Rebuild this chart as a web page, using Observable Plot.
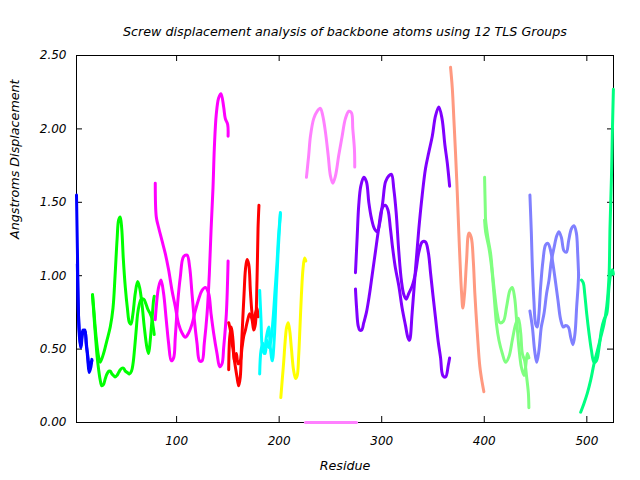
<!DOCTYPE html>
<html><head><meta charset="utf-8">
<script src="https://cdn.jsdelivr.net/npm/d3@7"></script>
<script src="https://cdn.jsdelivr.net/npm/@observablehq/plot@0.6"></script>
<style>body{margin:0;background:#fff}</style>
</head><body><div id="chart"></div>
<script>
const title = "Screw displacement analysis of backbone atoms using 12 TLS Groups";
const xLabel = "Residue";
const yLabel = "Angstroms Displacement";
const xTicks = [100, 200, 300, 400, 500];
const yTicks = [0, 0.5, 1, 1.5, 2, 2.5];
const yTickLabels = ["0.00", "0.50", "1.00", "1.50", "2.00", "2.50"];
const xRange = [2.4, 526];
const yRange = [0, 2.5];

// TLS group 1 (blue)
const g1a = [[2.4,1.55],[2.8,1.38],[3.5,1.08],[4.1,0.78],[5.3,0.61],[6.7,0.51],[8.6,0.61],[10.6,0.63],[11.9,0.53],[13.5,0.45],[14.8,0.36],[16.5,0.41],[17.4,0.42]];
const g1b = [[3.2,1.08],[4.1,0.80],[5.3,0.58],[6.7,0.52],[8.6,0.63],[10.6,0.62],[11.9,0.55],[13.5,0.42],[14.8,0.34],[16.5,0.38],[17.4,0.43]];
// TLS group 2 (green)
const g2a = [[18,0.87],[19.5,0.75],[20.6,0.65],[22,0.55],[23.9,0.45],[25.5,0.41],[28.8,0.47],[32.1,0.56],[35.3,0.65],[38,0.78],[40,1.0],[42,1.25],[43.5,1.38],[45,1.40],[46.5,1.32],[48,1.12],[50,0.92],[52,0.78],[54,0.68],[55.5,0.67],[57.4,0.74],[59.7,0.88],[62,0.96],[63.9,0.92],[66.2,0.81],[68.5,0.65],[71.1,0.51],[72.7,0.47],[74.3,0.56],[76,0.70],[77.5,0.83],[78.2,0.86]];
const g2b = [[18,0.87],[19.5,0.72],[21,0.58],[22.5,0.45],[24,0.36],[25.5,0.29],[27,0.25],[28.8,0.26],[30.5,0.30],[32.1,0.33],[34,0.35],[35.3,0.35],[37,0.33],[38.5,0.32],[40,0.31],[41.8,0.32],[43.5,0.34],[45.1,0.36],[47,0.37],[48.3,0.37],[50,0.35],[52,0.34],[54,0.33],[56,0.35],[57.5,0.40],[59,0.50],[60.5,0.62],[62,0.74],[63.5,0.80],[65.5,0.84],[68,0.84],[70,0.81],[72,0.77],[74.3,0.74],[76,0.71],[77,0.66],[78.2,0.60]];
// TLS group 3 (magenta)
const g3a = [[79.2,1.63],[80.2,1.40],[82.4,1.33],[85.7,1.24],[89,1.15],[92.2,1.04],[95.5,0.90],[98.7,0.79],[102,0.67],[105.3,0.61],[108.5,0.58],[111.7,0.61],[115,0.67],[118.2,0.76],[121.5,0.84],[124.8,0.90],[128,0.92],[131.2,0.88],[133.6,0.74],[136.1,0.61],[139.4,0.47],[142,0.38],[144.3,0.40],[145.9,0.51],[148.5,0.74],[150.2,1.10]];
const g3b = [[79.2,0.70],[82.4,0.92],[84.8,0.97],[87.3,0.88],[89.9,0.70],[92.2,0.54],[94.8,0.42],[97.1,0.44],[98.7,0.58],[101,0.81],[103.6,0.99],[106.8,1.13],[110.2,1.14],[112.7,1.06],[115,0.88],[117.3,0.70],[119.9,0.54],[122.4,0.42],[124.8,0.42],[127,0.54],[129.7,0.74],[131.9,1.01],[133.6,1.31],[135.5,1.60],[136.8,1.87],[138.7,2.10],[141,2.21],[143.3,2.24],[145.9,2.15],[147.5,2.07],[149.8,2.03],[150.2,1.95]];
// TLS group 4 (red)
const g4a = [[150.8,0.68],[152.4,0.63],[153.8,0.55],[155,0.50],[156.2,0.43],[157.3,0.38],[158.9,0.31],[160.5,0.25],[162.1,0.31],[163.2,0.50],[164.5,0.70],[165.8,0.88],[167.1,1.04],[168.7,1.11],[170.3,1.08],[172,0.89],[173.6,0.74],[175.2,0.67],[176.8,0.74],[178.4,0.78],[179.5,0.72]];
const g4b = [[150.8,0.36],[151.8,0.58],[153.4,0.65],[155,0.56],[156.6,0.42],[158.3,0.47],[159.9,0.40],[162.1,0.42],[163.8,0.51],[165.5,0.59],[167.1,0.63],[168.7,0.68],[171.3,0.74],[173.6,0.70],[175.2,0.63],[176.8,0.67],[178.4,0.97],[179.4,1.32],[180.3,1.48]];
// TLS group 5 (cyan)
const g5a = [[181,0.90],[182.3,0.70],[183.6,0.51],[185.5,0.47],[187.5,0.58],[189.8,0.65],[191.4,0.51],[193.3,0.42],[195.3,0.58],[197.2,0.90],[198.9,1.15],[200.5,1.35],[201.2,1.43]];
const g5b = [[181,0.33],[182.3,0.49],[184.2,0.54],[186.5,0.47],[188.1,0.56],[190.1,0.51],[192,0.56],[194,0.70],[196,0.90],[198,1.10],[199.5,1.28],[201.2,1.42]];
// TLS group 6 (yellow)
const g6a = [[201.6,0.17],[203,0.29],[204.5,0.42],[205.8,0.55],[207.3,0.65],[208.8,0.68],[210.4,0.62],[212,0.50],[214,0.36],[216,0.30],[217.6,0.32],[219,0.45],[220.3,0.65],[221.7,0.87],[223.3,1.05],[224.8,1.12],[226,1.10]];
// TLS group 7 (pink)
const g7a = [[226.6,1.67],[228.8,1.82],[230.5,1.95],[233.7,2.07],[237,2.12],[240.2,2.14],[242.5,2.09],[245.1,1.98],[247.8,1.82],[250,1.68],[252.3,1.63],[254.9,1.68],[258.1,1.82],[261.4,1.95],[264.6,2.07],[267.9,2.12],[270.5,2.11],[271.8,2.00],[273.4,1.86],[273.7,1.74]];
const g7b = [[225.6,0],[275.4,0]];
// TLS group 8 (violet)
const g8a = [[274.4,1.02],[276.1,1.27],[277.6,1.48],[279.6,1.61],[282.5,1.67],[285.1,1.64],[287.4,1.50],[290,1.39],[292.9,1.32],[295.6,1.30],[298.1,1.36],[301,1.50],[303.7,1.64],[306.9,1.68],[309.5,1.69],[311.8,1.59],[314.1,1.43],[316.7,1.16],[319.3,0.96],[321.6,0.87],[323.9,0.84],[326.4,0.88],[329.7,0.93],[333,1.02],[336.2,1.16],[339.5,1.23],[342.7,1.23],[345.4,1.16],[347.6,1.02],[349.9,0.87],[352.5,0.71],[355.1,0.55],[357.4,0.44],[359.6,0.32],[362.3,0.31],[364.9,0.39],[366.2,0.44]];
const g8b = [[274.4,0.91],[275.5,0.78],[277,0.66],[278.5,0.63],[280.5,0.63],[282.5,0.68],[285.1,0.75],[288,0.87],[290.6,1.00],[293.8,1.16],[297,1.32],[300.4,1.46],[303.5,1.48],[306,1.45],[308.5,1.32],[310.8,1.18],[313.4,1.05],[316.7,0.93],[319.9,0.78],[323.2,0.66],[325.5,0.58],[327.1,0.56],[329.7,0.75],[333,1.05],[336.2,1.32],[339.5,1.55],[342.7,1.73],[345.9,1.84],[349.3,1.95],[352.5,2.09],[355.7,2.15],[358.8,2.07],[361.6,1.89],[363.9,1.77],[366.2,1.61]];
// TLS group 9 (salmon)
const g9a = [[367.1,2.42],[368.8,2.28],[370.4,2.06],[372,1.83],[373.7,1.56],[375.2,1.29],[376.9,1.01],[377.9,0.88],[379.1,0.78],[380.8,0.88],[382.7,1.10],[385,1.29],[387.3,1.26],[389.3,1.10],[390.8,0.88],[393.2,0.61],[395.7,0.38],[398,0.27],[399.6,0.21]];
// TLS group 10 (light green)
const g10a = [[400.3,1.67],[401,1.45],[401.3,1.38],[403.5,1.26],[406.2,1.15],[408.1,1.01],[410.1,0.88],[412.7,0.74],[415.2,0.68],[418.6,0.69],[421.8,0.79],[425,0.90],[427.3,0.92],[429.6,0.85],[431.5,0.70],[433.8,0.51],[436.1,0.38],[438.7,0.32],[440.3,0.38],[442,0.47],[443.5,0.44]];
const g10b = [[400.3,1.38],[401.3,1.30],[404.5,1.19],[407.1,1.06],[409.4,0.88],[411.9,0.67],[414.3,0.56],[417.6,0.47],[420.8,0.41],[424.1,0.45],[427.3,0.56],[430.6,0.67],[433.2,0.71],[435.5,0.61],[437.1,0.47],[439.4,0.42],[441.3,0.31],[443,0.20],[443.5,0.10]];
// TLS group 11 (light blue)
const g11a = [[444.5,1.55],[445.9,1.29],[446.9,1.06],[448.4,0.83],[450.1,0.67],[451.7,0.65],[453.3,0.74],[454.9,0.92],[457.2,1.10],[459.8,1.21],[462.1,1.22],[464.7,1.17],[467.4,1.06],[469.6,0.95],[471.9,0.83],[474.5,0.70],[477.1,0.65],[479.4,0.66],[482,0.65],[484.3,0.58],[486.5,0.53],[488.5,0.61],[490.1,0.79],[491.4,0.92],[492,1.01]];
const g11b = [[444.5,0.76],[446.9,0.65],[449.1,0.49],[451.1,0.41],[453.3,0.49],[455.6,0.65],[458.2,0.74],[460.8,0.88],[463.1,0.97],[465.4,1.10],[468,1.19],[470.6,1.27],[472.8,1.30],[475.2,1.26],[477.7,1.17],[480.1,1.16],[482.3,1.24],[485,1.32],[487.5,1.34],[489.8,1.29],[491.1,1.15],[492,1.00]];
// TLS group 12 (spring green)
const g12a = [[494,0.07],[497.2,0.13],[500.5,0.20],[503.8,0.29],[507,0.40],[510.3,0.49],[513.5,0.58],[516.7,0.67],[519.4,0.79],[521.6,0.99],[522.6,1.33],[524,1.67],[525,2.01],[525.9,2.27]];
const g12b = [[494.7,0.97],[496.6,0.95],[497.9,0.88],[499.9,0.74],[502.1,0.61],[504.5,0.49],[507,0.41],[509.3,0.42],[511.9,0.51],[514.2,0.63],[516.7,0.70],[519.4,0.74],[521.6,0.92],[523.3,1.01],[525,1.04],[525.9,1.01]];

const seriesList = [
  [g1a, "#0000ff"], [g1b, "#0000ff"],
  [g2a, "#00ff00"], [g2b, "#00ff00"],
  [g3a, "#ff00ff"], [g3b, "#ff00ff"],
  [g4a, "#ff0000"], [g4b, "#ff0000"],
  [g5a, "#00ffff"], [g5b, "#00ffff"],
  [g6a, "#ffff00"],
  [g7a, "#ff80ff"],
  [g8a, "#8000ff"], [g8b, "#8000ff"],
  [g9a, "#ff9980"],
  [g10a, "#80ff80"], [g10b, "#80ff80"],
  [g11a, "#8080ff"], [g11b, "#8080ff"],
  [g12a, "#00ff80"], [g12b, "#00ff80"]
];

const W = 640, H = 480, mt = 55, mb = 58, ml = 76, mr = 27;
const fw = W - ml - mr, fh = H - mt - mb, tk = 6;
const font = "DejaVu Sans";

const chart = Plot.plot({
  width: W, height: H,
  marginTop: mt, marginBottom: mb, marginLeft: ml, marginRight: mr,
  style: {fontFamily: font, background: "#fff", color: "#000"},
  x: {domain: xRange},
  y: {domain: yRange},
  marks: [
    Plot.axisX(xTicks, {tickSize: 0, tickPadding: 14, label: null, fontSize: 12, fontStyle: "italic"}),
    Plot.axisY(yTicks, {tickSize: 0, tickPadding: 10, label: null, fontSize: 12, fontStyle: "italic", tickFormat: d => yTickLabels[yTicks.indexOf(d)]}),
    Plot.ruleX(xTicks, {x: d => d, insetTop: fh - tk, stroke: "#000"}),
    Plot.ruleX(xTicks, {x: d => d, insetBottom: fh - tk, stroke: "#000"}),
    Plot.ruleY(yTicks, {y: d => d, insetRight: fw - tk, stroke: "#000"}),
    Plot.ruleY(yTicks, {y: d => d, insetLeft: fw - tk, stroke: "#000"}),
    Plot.frame({stroke: "#000"}),
    ...seriesList.map(([pts, color]) => Plot.line(pts, {x: d => d[0], y: d => d[1], stroke: color, strokeWidth: 3, curve: "catmull-rom"})),
    Plot.line(g7b, {x: d => d[0], y: d => d[1], stroke: "#ff80ff", strokeWidth: 3}),
    Plot.text([title], {frameAnchor: "top", dy: -29, fontSize: 12.7, fontStyle: "italic", fill: "#000"}),
    Plot.text([xLabel], {frameAnchor: "bottom", dy: 47, fontSize: 12.7, fontStyle: "italic", fill: "#000"}),
    Plot.text([yLabel], {frameAnchor: "left", dx: -62, rotate: -90, fontSize: 12.7, fontStyle: "italic", fill: "#000"})
  ]
});
document.getElementById("chart").appendChild(chart);
</script>
</body></html>
